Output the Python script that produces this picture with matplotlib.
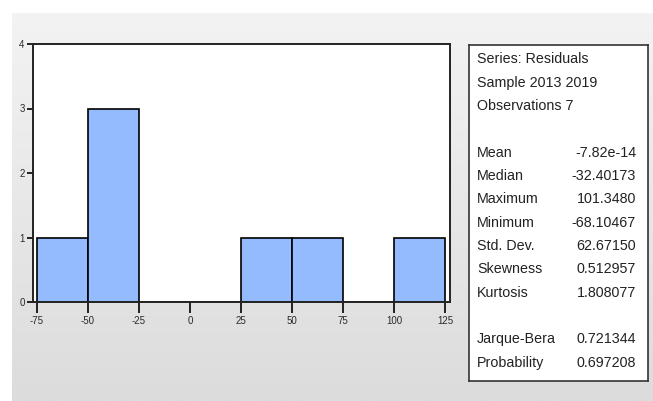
import numpy as np
import matplotlib
matplotlib.use("Agg")
import matplotlib.pyplot as plt
from matplotlib.colors import LinearSegmentedColormap

plt.rcParams['font.family'] = ['Liberation Sans', 'DejaVu Sans']
plt.rcParams['axes.unicode_minus'] = False

# Data
bin_edges = [-75, -50, -25, 0, 25, 50, 75, 100, 125]
counts = [1, 3, 0, 0, 1, 1, 0, 1]
xticks = [-75, -50, -25, 0, 25, 50, 75, 100, 125]
yticks = [0, 1, 2, 3, 4]
stat_header = ["Series: Residuals", "Sample 2013 2019", "Observations 7"]
stat_names = ["Mean", "Median", "Maximum", "Minimum", "Std. Dev.", "Skewness", "Kurtosis"]
stat_values = ["-7.82e-14", "-32.40173", "101.3480", "-68.10467", "62.67150", "0.512957", "1.808077"]
test_names = ["Jarque-Bera", "Probability"]
test_values = ["0.721344", "0.697208"]

W, H = 653, 401
fig = plt.figure(figsize=(W / 100, H / 100), dpi=100)
fig.patch.set_facecolor('white')

# Gray gradient background panel
bg = fig.add_axes([12 / W, 0, (W - 12) / W, (H - 13) / H])
bg.set_axis_off()
cmap = LinearSegmentedColormap.from_list('g', ['#f3f3f3', '#dcdcdc'])
grad = np.linspace(0, 1, 256).reshape(-1, 1)
bg.imshow(grad, aspect='auto', cmap=cmap, extent=[0, 1, 0, 1], origin='upper')
bg.set_xlim(0, 1)
bg.set_ylim(0, 1)

# Histogram axes
ax = fig.add_axes([33 / W, (H - 302) / H, (450 - 33) / W, (302 - 44) / H])
ax.set_facecolor('white')
ax.hist(bin_edges[:-1], bins=bin_edges, weights=counts, color='#94bbfd',
        edgecolor='black', linewidth=1.2)
ax.set_xlim(-75 - 4 / 2.04, 125 + 5 / 2.04)
ax.set_ylim(0, 4)
ax.set_xticks(xticks)
ax.set_yticks(yticks)
ax.tick_params(axis='x', direction='out', length=8, width=1.2, labelsize=7,
               labelcolor='#2a2a2a', pad=2)
ax.tick_params(axis='y', direction='out', length=4, width=1.2, labelsize=7,
               labelcolor='#2a2a2a', pad=2)
for s in ax.spines.values():
    s.set_linewidth(1.4)
    s.set_color('#222222')

# Stats box
box = fig.add_axes([469 / W, (H - 381) / H, (648 - 469) / W, (381 - 45) / H])
box.set_facecolor('white')
box.set_xticks([])
box.set_yticks([])
for s in box.spines.values():
    s.set_linewidth(1.2)
    s.set_color('#333333')
box.set_xlim(469, 648)
box.set_ylim(381, 45)

fs = 10.3
tc = '#222222'
lx, rx = 477, 636
y_head = [59, 83, 106]
for y, t in zip(y_head, stat_header):
    box.text(lx, y, t, fontsize=fs, va='center', ha='left', color=tc)
y_stats = [153, 176, 199, 223, 246, 269, 293]
for y, n, v in zip(y_stats, stat_names, stat_values):
    box.text(lx, y, n, fontsize=fs, va='center', ha='left', color=tc)
    box.text(rx, y, v, fontsize=fs, va='center', ha='right', color=tc)
y_tests = [339, 363]
for y, n, v in zip(y_tests, test_names, test_values):
    box.text(lx, y, n, fontsize=fs, va='center', ha='left', color=tc)
    box.text(rx, y, v, fontsize=fs, va='center', ha='right', color=tc)

fig.savefig('out.png', dpi=100, facecolor='white')
